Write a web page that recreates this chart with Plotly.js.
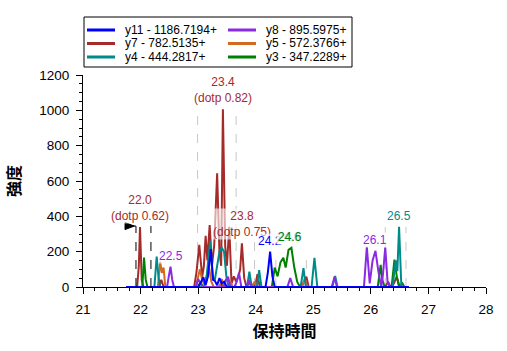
<!DOCTYPE html>
<html><head><meta charset="utf-8">
<script src="https://cdn.plot.ly/plotly-3.0.1.min.js"></script>
<style>html,body{margin:0;padding:0;background:#fff}#c{width:507px;height:351px}</style>
</head><body><div id="c"></div>
<script>
// ---- data (retention time in minutes, intensity) ----
const seriesNames = ["y11 - 1186.7194+","y8 - 895.5975+","y7 - 782.5135+","y5 - 572.3766+","y4 - 444.2817+","y3 - 347.2289+"];
const seriesColors = ["#0000ff","#8a2be2","#a52a2a","#d2691e","#008b8b","#008000"];

const y11_t = [21.75,23.0,23.03,23.06,23.09,23.13,23.17,23.22,23.26,23.29,23.33,23.37,23.41,23.45,23.5,24.17,24.21,24.25,24.29,24.33,26.66];
const y11_i = [0,0,15,35,55,10,60,215,40,35,10,50,20,30,0,0,80,200,60,0,0];

const y8_t = [21.75,22.46,22.49,22.52,22.55,22.58,22.96,23.0,23.04,23.08,23.45,23.48,23.52,23.56,23.63,23.67,23.71,23.75,23.84,23.88,23.92,24.55,24.6,24.65,25.32,25.37,25.41,25.88,25.93,25.98,26.03,26.08,26.13,26.18,26.21,26.25,26.29,26.33,26.66];
const y8_i = [0,0,60,115,40,0,0,45,20,0,0,40,58,0,0,30,80,0,0,40,0,0,50,0,0,58,0,0,228,20,150,205,90,0,70,225,30,0,0];

const y7_t = [21.75,21.94,21.97,21.99,22.02,22.05,22.32,22.36,22.4,22.93,22.97,23.02,23.07,23.1,23.13,23.16,23.2,23.24,23.28,23.33,23.37,23.4,23.43,23.47,23.5,23.54,23.58,23.62,23.66,23.7,23.73,23.76,23.8,23.84,23.9,23.96,24.0,24.03,24.07,24.8,24.85,24.88,24.92,26.25,26.3,26.34,26.4,26.45,26.5,26.66];
const y7_i = [0,0,120,340,40,0,0,40,0,0,80,238,58,120,290,150,350,120,240,643,200,120,1006,230,120,341,20,60,30,60,100,247,50,0,30,0,20,73,0,0,40,58,0,0,30,0,20,58,0,0];

const y5_t = [21.75,22.3,22.34,22.37,22.4,22.43,22.96,23.0,23.03,23.07,23.11,23.15,23.19,23.23,23.27,23.37,23.41,23.45,23.52,23.56,23.6,23.94,23.98,24.02,24.8,24.85,24.9,26.66];
const y5_i = [0,0,143,80,110,0,0,60,100,40,15,40,110,30,0,0,45,0,0,30,0,0,30,0,0,45,0,0];

const y4_t = [21.75,22.24,22.28,22.31,22.34,23.1,23.15,23.21,23.25,23.29,23.33,23.37,23.41,23.45,23.49,23.53,23.85,23.89,23.93,24.02,24.06,24.1,24.78,24.83,24.87,24.97,25.02,25.07,25.33,25.38,25.42,26.38,26.43,26.46,26.49,26.53,26.66];
const y4_i = [0,0,172,60,0,0,70,262,60,40,120,200,222,200,60,0,0,87,0,0,96,0,0,107,0,0,165,0,0,62,0,0,150,90,341,0,0];

const y3_t = [21.75,22.03,22.06,22.09,22.12,23.0,23.04,23.08,23.35,23.4,23.45,24.28,24.33,24.38,24.43,24.48,24.52,24.57,24.62,24.67,24.72,24.77,26.12,26.17,26.2,26.24,26.36,26.41,26.45,26.49,26.55,26.58,26.66];
const y3_i = [0,0,166,40,0,0,30,0,0,15,0,0,110,60,140,165,110,210,222,110,30,0,0,125,40,0,0,155,60,0,20,0,0];

// peak labels
const labelTimes = [21.99,23.43,23.76,22.52,24.25,24.6,24.6,26.08,26.49];
const labelHeights = [340,1006,247,115,200,222,222,205,341];
const labelTexts = ["22.0<br>(dotp 0.62)","23.4<br>(dotp 0.82)","23.8<br>(dotp 0.75)","22.5","24.2","24.6","24.6","26.1","26.5"];
const labelColors = ["#a52a2a","#a52a2a","#a52a2a","#8a2be2","#0000ff","#008b8b","#008000","#8a2be2","#008b8b"];
const labelDx = [0,0,0,0,0,-1,0,0,0];

// peak boundary markers
const boundaryTimes = [21.92,22.18];
const boundaryTop = 345;
const guideTimes = [22.99,23.66,23.98,24.35,24.88,26.25,26.61];
const guideTops = [1000,1000,310,200,200,340,340];

// axis
const xRange = [21,28];
const yRange = [0,1200];
const xTickVals = [21,22,23,24,25,26,27,28];
const yTickVals = [0,200,400,600,800,1000,1200];

// ---- build ----
const tData = [y11_t,y8_t,y7_t,y5_t,y4_t,y3_t];
const iData = [y11_i,y8_i,y7_i,y5_i,y4_i,y3_i];
const drawOrder = [2,5,3,4,1,0];
const traces = drawOrder.map(k => ({
  type:'scatter', mode:'lines', x:tData[k], y:iData[k], name:seriesNames[k],
  line:{color:seriesColors[k], width:2}, showlegend:false, hoverinfo:'skip'
}));

const L = 83, R = 486, T = 75, B = 287;
const px = v => (v - L)/(R - L);
const py = v => (B - v)/(B - T);

const shapes = [];
const annotations = [];

guideTimes.forEach((t,i)=>shapes.push({type:'line',xref:'x',yref:'y',x0:t,x1:t,y0:0,y1:guideTops[i],line:{color:'#c8c8c8',width:1,dash:'dash'},layer:'below'}));
boundaryTimes.forEach(t=>shapes.push({type:'line',xref:'x',yref:'y',x0:t,x1:t,y0:0,y1:boundaryTop,line:{color:'#000',width:1,dash:'dash'}}));
// retention-time flag
const ft = boundaryTimes[0];
shapes.push({type:'path',xref:'x',yref:'y',path:`M${ft-0.19},${boundaryTop-20} L${ft-0.19},${boundaryTop+20} L${ft-0.03},${boundaryTop} Z`,fillcolor:'#000',line:{color:'#000',width:1}});
shapes.push({type:'line',xref:'x',yref:'y',x0:ft-0.19,x1:ft,y0:boundaryTop,y1:boundaryTop,line:{color:'#000',width:1}});

labelTimes.forEach((t,i)=>annotations.push({
  x:t, y:labelHeights[i], xref:'x', yref:'y', text:labelTexts[i], showarrow:false,
  yanchor:'bottom', yshift:3, xshift:labelDx[i], bgcolor:'rgba(255,255,255,0.6)', borderpad:0,
  font:{family:'Liberation Sans, Arial, sans-serif', size:12, color:labelColors[i]}
}));

// legend (manual, two columns)
shapes.push({type:'rect',xref:'paper',yref:'paper',x0:px(84),x1:px(352),y0:py(17),y1:py(67),line:{color:'#000',width:1},fillcolor:'#fff'});
const legendOrder = [0,1,2,3,4,5];
const colX = [87,228], rowY = [30,43.5,57];
legendOrder.forEach((k,j)=>{
  const c = j%2, r = Math.floor(j/2);
  shapes.push({type:'line',xref:'paper',yref:'paper',x0:px(colX[c]),x1:px(colX[c]+28),y0:py(rowY[r]),y1:py(rowY[r]),line:{color:seriesColors[k],width:3}});
  annotations.push({xref:'paper',yref:'paper',x:px(colX[c]+36),y:py(rowY[r]),xanchor:'left',yanchor:'middle',showarrow:false,text:seriesNames[k],font:{family:'Liberation Sans, Arial, sans-serif',size:12,color:'#000'}});
});

const tickFont = {family:'Liberation Sans, Arial, sans-serif', size:13.5, color:'#000'};
const titleFont = {family:'Noto Sans CJK JP, sans-serif', size:16, color:'#000', weight:'bold'};
const layout = {
  width:507, height:351, margin:{l:L, r:507-R, t:T, b:351-B},
  paper_bgcolor:'#fff', plot_bgcolor:'#fff', showlegend:false,
  xaxis:{range:xRange, tickvals:xTickVals, ticks:'outside', ticklen:6, tickcolor:'#000', showline:true, linecolor:'#000', linewidth:1,
    showgrid:false, zeroline:false, tickfont:tickFont, ticklabelstandoff:4, minor:{dtick:0.2, ticks:'outside', ticklen:3, tickcolor:'#000', showgrid:false},
    title:{text:'保持時間', font:titleFont, standoff:9}},
  yaxis:{range:yRange, tickvals:yTickVals, ticks:'outside', ticklen:6, tickcolor:'#000', showline:true, linecolor:'#000', linewidth:1,
    showgrid:false, zeroline:false, tickfont:tickFont, ticklabelstandoff:4, minor:{dtick:50, ticks:'outside', ticklen:3, tickcolor:'#000', showgrid:false},
    title:{text:'強度', font:titleFont, standoff:14}},
  shapes:shapes, annotations:annotations
};
Plotly.newPlot('c', traces, layout, {staticPlot:true, displayModeBar:false});
</script></body></html>
